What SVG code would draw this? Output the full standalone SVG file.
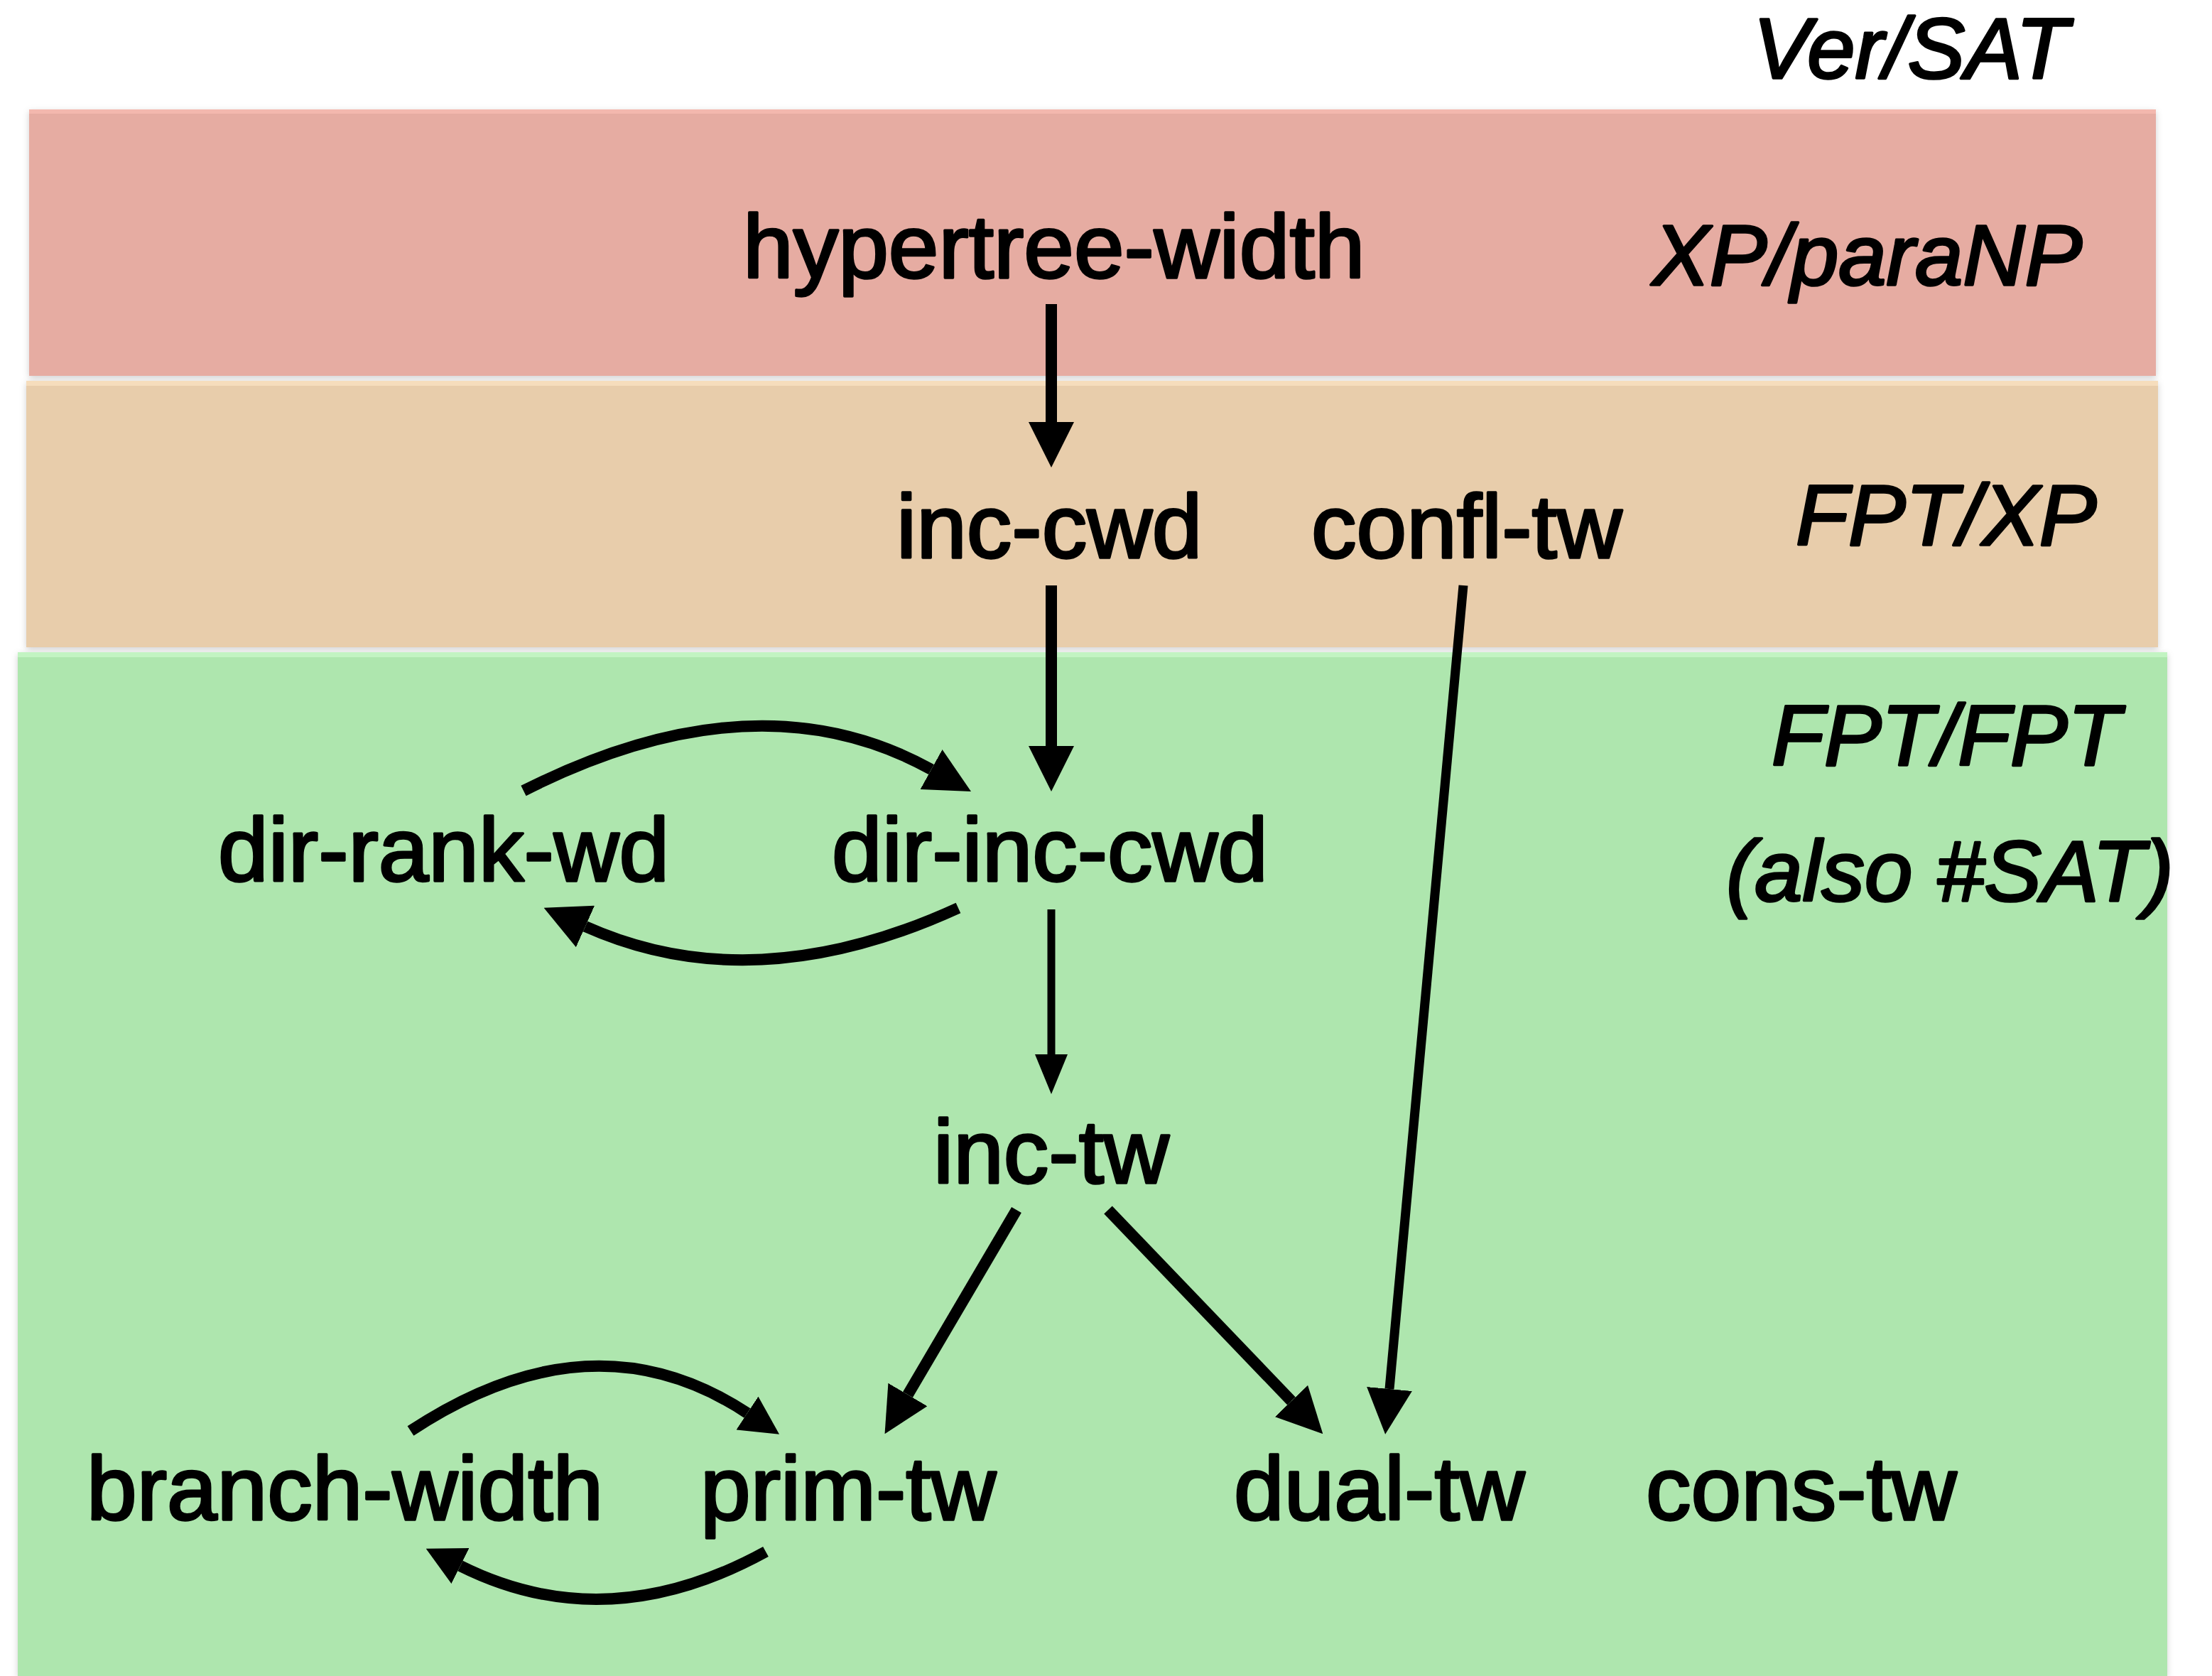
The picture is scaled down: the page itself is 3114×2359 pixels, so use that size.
<svg xmlns="http://www.w3.org/2000/svg" width="3114" height="2359" viewBox="0 0 3114 2359">
<defs>
<filter id="sh" x="-2%" y="-5%" width="104%" height="110%">
<feDropShadow dx="0" dy="3" stdDeviation="5" flood-color="#000" flood-opacity="0.18"/>
</filter>
<marker id="ah" markerUnits="userSpaceOnUse" markerWidth="64" markerHeight="64" viewBox="0 0 64 64" refX="0" refY="32" orient="auto">
<path d="M0,0 L64,32 L0,64 Z" fill="#000"/>
</marker>
<marker id="am" markerUnits="userSpaceOnUse" markerWidth="56" markerHeight="46" viewBox="0 0 56 46" refX="0" refY="23" orient="auto">
<path d="M0,0 L56,23 L0,46 Z" fill="#000"/>
</marker>
<marker id="as" markerUnits="userSpaceOnUse" markerWidth="54" markerHeight="56" viewBox="0 0 54 56" refX="0" refY="28" orient="auto">
<path d="M0,0 L54,28 L0,56 Z" fill="#000"/>
</marker>
</defs>
<style>
.lbl{font-family:"Liberation Sans",Arial,Helvetica,sans-serif;font-weight:normal;font-size:127px;fill:#000;stroke:#000;stroke-width:3.5;stroke-linejoin:round}
.cls{font-family:"Liberation Sans",Arial,Helvetica,sans-serif;font-weight:normal;font-style:italic;font-size:121px;fill:#000;stroke:#000;stroke-width:3.5;stroke-linejoin:round}
.e{fill:none;stroke:#000;stroke-width:16}
</style>
<rect x="0" y="0" width="3114" height="2359" fill="#fff"/>
<g id="bands">
<g id="band-xp" filter="url(#sh)">
<rect x="41" y="154" width="2994" height="375" fill="#E6ACA2"/>
<rect x="41" y="154" width="2994" height="6" fill="#F3B8AE"/>
</g>
<g id="band-fptxp" filter="url(#sh)">
<rect x="37" y="536" width="3001" height="375" fill="#E8CDAB"/>
<rect x="37" y="536" width="3001" height="7" fill="#F6DDBC"/>
</g>
<g id="band-fpt" filter="url(#sh)">
<rect x="25" y="918" width="3026" height="1441" fill="#AEE6AE"/>
<rect x="25" y="918" width="3026" height="7" fill="#C2F4C2"/>
</g>
</g>
<g id="class-labels">
<text class="cls" x="2468" y="110">Ver/SAT</text>
<text class="cls" x="2326" y="401">XP/paraNP</text>
<text class="cls" x="2528" y="767">FPT/XP</text>
<text class="cls" x="2494" y="1077">FPT/FPT</text>
<text class="cls" x="2430" y="1268">(also #SAT)</text>
</g>
<g id="connectors">
<path class="e" d="M1480,428 L1480,594" marker-end="url(#ah)"/>
<path class="e" d="M1480,824 L1480,1050" marker-end="url(#ah)"/>
<path class="e" style="stroke-width:11" d="M1480,1280 L1480,1484" marker-end="url(#am)"/>
<path class="e" style="stroke-width:13" d="M2060,824 L1956,1955" marker-end="url(#ah)"/>
<path class="e" d="M1431,1703 L1278,1963" marker-end="url(#ah)"/>
<path class="e" d="M1560,1703 L1818,1972" marker-end="url(#ah)"/>
<path class="e" d="M737,1113 Q1065,947 1311,1083" marker-end="url(#ah)"/>
<path class="e" d="M1349,1278 Q1061,1410 824,1304" marker-end="url(#ah)"/>
<path class="e" d="M578,2014 Q834,1845 1052,1989" marker-end="url(#as)"/>
<path class="e" d="M1078,2184 Q854,2307 648,2204" marker-end="url(#as)"/>
</g>
<g id="node-hypertree-width"><text class="lbl" x="1046" y="391">hypertree-width</text></g>
<g id="node-inc-cwd"><text class="lbl" x="1262" y="785">inc-cwd</text></g>
<g id="node-confl-tw"><text class="lbl" x="1846" y="785">confl-tw</text></g>
<g id="node-dir-rank-wd"><text class="lbl" x="307" y="1240">dir-rank-wd</text></g>
<g id="node-dir-inc-cwd"><text class="lbl" x="1171" y="1240">dir-inc-cwd</text></g>
<g id="node-inc-tw"><text class="lbl" x="1314" y="1665">inc-tw</text></g>
<g id="node-branch-width"><text class="lbl" x="122" y="2139">branch-width</text></g>
<g id="node-prim-tw"><text class="lbl" x="986" y="2139">prim-tw</text></g>
<g id="node-dual-tw"><text class="lbl" x="1737" y="2139">dual-tw</text></g>
<g id="node-cons-tw"><text class="lbl" x="2317" y="2139">cons-tw</text></g>
</svg>
